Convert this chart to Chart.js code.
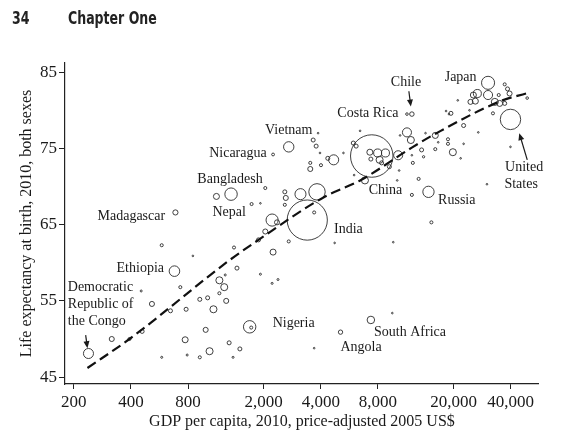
<!DOCTYPE html>
<html>
<head>
<meta charset="utf-8">
<script src="https://cdn.jsdelivr.net/npm/chart.js@4.4.0/dist/chart.umd.min.js"></script>
<style>
  body { margin: 0; background: #fff; }
  #wrap { position: relative; width: 561px; height: 437px; }
  .hdr { position: absolute; top: 8px; font-family: "DejaVu Sans Condensed", "Liberation Sans Narrow", sans-serif;
         font-weight: bold; font-size: 17px; color: #222; transform: scaleX(0.82); transform-origin: left top; }
</style>
</head>
<body>
<div id="wrap">
  <canvas id="chart" width="561" height="437"></canvas>
  <div class="hdr" style="left:12px">34</div>
  <div class="hdr" style="left:68px">Chapter One</div>
</div>
<script>
// countries: GDP per capita (2005 US$), life expectancy, population (millions)
const gdp = [239, 317, 393, 458, 516, 453, 728, 678, 646, 781, 772, 581, 791, 922, 1038, 990, 922, 1014, 1088, 1169,
  1240, 1169, 1270, 1447, 1255, 1316, 1499, 1380, 1688, 1720, 1923, 2216, 2380, 7340, 5080, 9520, 3690, 3394, 3690, 3820,
  3126, 2585, 2616, 2585, 2216, 2352, 2711, 4730, 9630, 12070, 14760, 15290, 30000, 2242, 686, 1128, 1347, 1728, 1923, 2040,
  2040, 1878, 1396, 581, 848, 2711, 2242, 3870, 3646, 3780, 3960, 3520, 3520, 4008, 4675, 4354, 5264, 11370, 12070, 18920,
  11370, 11920, 6440, 5930, 6140, 7420, 7250, 7970, 8760, 7340, 8160, 8360, 10220, 10460, 14240, 16030, 16610, 16030, 13580, 12070,
  12210, 13910, 9186, 10340, 6830, 5990, 13100, 10100, 19840, 18700, 18700, 22600, 21800, 18270, 19380, 22600, 24270, 27000,
  21060, 30400, 26700, 25440, 30400, 24560, 26060, 33000, 35000, 37200, 38500, 39460, 34600, 32260, 37200, 48860, 39900, 39900];
const lifeExp = [48.1, 50.0, 50.0, 51.0, 54.6, 56.3, 56.8, 58.9, 53.7, 53.9, 49.9, 47.6, 47.9, 47.6, 48.4, 51.2, 55.2, 55.4, 53.9, 57.7,
  56.8, 56.0, 55.0, 59.3, 58.4, 49.5, 48.7, 47.6, 51.6, 51.5, 58.5, 57.3, 57.8, 52.5, 50.9, 53.4, 48.8, 65.6, 66.6, 69.3,
  69.0, 69.3, 68.5, 67.6, 65.6, 65.3, 62.8, 62.6, 62.7, 68.9, 69.3, 65.3, 70.3, 61.4, 66.6, 68.7, 69.0, 67.7, 67.8, 69.8,
  64.1, 63.0, 62.0, 62.3, 60.9, 75.2, 74.2, 77.0, 76.1, 75.3, 74.4, 73.1, 72.3, 72.8, 73.5, 73.7, 74.4, 79.5, 79.5, 79.5,
  77.1, 76.1, 77.3, 75.7, 75.3, 74.0, 74.5, 74.4, 74.4, 73.6, 73.5, 73.1, 74.1, 76.7, 77.0, 76.7, 75.8, 74.9, 74.8, 74.1,
  73.1, 73.9, 72.6, 72.1, 70.8, 71.5, 71.0, 70.8, 74.5, 76.2, 75.6, 75.6, 73.7, 79.9, 79.6, 78.0, 80.0, 77.1,
  81.3, 83.6, 82.2, 82.0, 82.0, 81.1, 81.2, 81.1, 80.9, 83.4, 82.8, 82.2, 82.0, 79.6, 80.9, 81.6, 78.8, 75.2];
const population = [75, 19, 7, 12, 19, 3, 7, 83, 12, 12, 27, 3, 3, 7, 37, 19, 12, 12, 37, 37,
  37, 7, 19, 12, 3, 12, 12, 3, 115, 7, 3, 3, 3, 42, 14, 2, 2, 1200, 7, 200,
  91, 12, 19, 7, 110, 19, 7, 2, 2, 7, 95, 7, 2, 27, 20, 27, 115, 7, 2, 7,
  19, 12, 7, 7, 2, 80, 6, 2, 12, 12, 2, 7, 19, 7, 75, 12, 2, 5, 15, 2,
  61, 37, 2, 12, 12, 1340, 27, 48, 48, 12, 37, 12, 61, 2, 2, 27, 2, 7, 12, 2,
  7, 4, 12, 2, 37, 2, 7, 2, 37, 7, 7, 2, 2, 2, 12, 12, 2, 2,
  2, 127, 48, 27, 61, 19, 27, 37, 27, 7, 12, 19, 7, 7, 12, 5, 310, 2];

// fitted curve
const fitGdp = [236, 393, 1316, 1878, 4150, 6450, 12060, 16000, 36200, 48200];
const fitLife = [46.2, 50.0, 60.3, 63.0, 68.6, 70.8, 75.1, 76.9, 81.3, 82.2];

const xTicks = [200, 400, 800, 2000, 4000, 8000, 20000, 40000];
const yTicks = [45, 55, 65, 75, 85];

// country labels (anchored in data units)
const labelText = ['Chile', 'Japan', 'Costa Rica', 'Vietnam', 'Nicaragua', 'Bangladesh', 'Nepal', 'Madagascar', 'Ethiopia',
  'Nigeria', 'South Africa', 'Angola', 'India', 'China', 'Russia', 'United', 'States'];
const labelGdp = [11240, 21800, 7080, 2710, 1464, 1330, 1316, 402, 448, 2230, 11800, 6520, 5590, 8760, 20800, 47100, 45400];
const labelLife = [83.7, 84.3, 79.6, 77.4, 74.4, 71.0, 66.6, 66.1, 59.3, 52.1, 50.9, 48.9, 64.4, 69.5, 68.2, 72.5, 70.3];
const congoLines = ['Democratic', 'Republic of', 'the Congo'];
const congoGdp = 186;
const congoLife = [56.8, 54.6, 52.3];

// arrows: tail -> tip
const arrowFromGdp = [11640, 48900, 231];
const arrowFromLife = [82.5, 73.5, 50.5];
const arrowToGdp = [11920, 44400, 236];
const arrowToLife = [80.5, 77.0, 48.8];

const serif = '"Liberation Serif", "DejaVu Serif", serif';

const annotations = {
    id: 'annotations',
    afterDatasetsDraw(chart) {
        const { ctx, scales: { x, y } } = chart;
        ctx.save();
        ctx.fillStyle = '#1a1a1a';
        ctx.font = '14px ' + serif;
        ctx.textBaseline = 'middle';
        labelText.forEach((t, i) => {
            ctx.textAlign = t === 'Nigeria' ? 'left' : 'center';
            ctx.fillText(t, x.getPixelForValue(labelGdp[i]), y.getPixelForValue(labelLife[i]));
        });
        ctx.textAlign = 'left';
        congoLines.forEach((t, i) => {
            ctx.fillText(t, x.getPixelForValue(congoGdp), y.getPixelForValue(congoLife[i]));
        });

        ctx.strokeStyle = '#1a1a1a';
        ctx.lineWidth = 1.2;
        arrowFromGdp.forEach((g, i) => {
            const x0 = x.getPixelForValue(g), y0 = y.getPixelForValue(arrowFromLife[i]);
            const x1 = x.getPixelForValue(arrowToGdp[i]), y1 = y.getPixelForValue(arrowToLife[i]);
            const a = Math.atan2(y1 - y0, x1 - x0);
            ctx.beginPath();
            ctx.moveTo(x0, y0);
            ctx.lineTo(x1 - 4 * Math.cos(a), y1 - 4 * Math.sin(a));
            ctx.stroke();
            ctx.beginPath();
            ctx.moveTo(x1, y1);
            ctx.lineTo(x1 - 7 * Math.cos(a) + 3 * Math.sin(a), y1 - 7 * Math.sin(a) - 3 * Math.cos(a));
            ctx.lineTo(x1 - 7 * Math.cos(a) - 3 * Math.sin(a), y1 - 7 * Math.sin(a) + 3 * Math.cos(a));
            ctx.closePath();
            ctx.fill();
        });
        ctx.restore();
    }
};

const ctx = document.getElementById('chart').getContext('2d');
new Chart(ctx, {
    type: 'bubble',
    data: {
        datasets: [{
            type: 'line',
            data: fitGdp.map((g, i) => ({ x: g, y: fitLife[i] })),
            borderColor: '#111',
            borderWidth: 2.2,
            borderDash: [10, 5],
            pointRadius: 0,
            fill: false,
            tension: 0.4,
            cubicInterpolationMode: 'monotone'
        }, {
            data: gdp.map((g, i) => ({ x: g, y: lifeExp[i], r: 0.58 * Math.sqrt(population[i]) })),
            backgroundColor: 'rgba(0,0,0,0)',
            borderColor: '#2a2a2a',
            borderWidth: 0.9
        }]
    },
    options: {
        responsive: false,
        animation: false,
        events: [],
        layout: { padding: { top: 63, right: 11, left: 0, bottom: 0 } },
        plugins: { legend: { display: false }, tooltip: { enabled: false } },
        scales: {
            x: {
                type: 'logarithmic',
                min: 179.8,
                max: 56300,
                afterBuildTicks: (s) => { s.ticks = xTicks.map(v => ({ value: v })); },
                afterFit: (s) => { s.height = 53; },
                grid: { display: true, drawOnChartArea: false, drawTicks: true, tickLength: 5, color: '#222' },
                border: { display: true, color: '#222', width: 1.2 },
                ticks: {
                    color: '#1a1a1a', padding: 3, maxRotation: 0, autoSkip: false,
                    font: { family: serif, size: 17 },
                    callback: (v) => Number(v).toLocaleString('en-US')
                },
                title: {
                    display: true, text: 'GDP per capita, 2010, price-adjusted 2005 US$',
                    color: '#1a1a1a', font: { family: serif, size: 16 }, padding: { bottom: 6 }
                }
            },
            y: {
                min: 44.1,
                max: 86.2,
                afterBuildTicks: (s) => { s.ticks = yTicks.map(v => ({ value: v })); },
                afterFit: (s) => { s.width = 65; },
                grid: { display: true, drawOnChartArea: false, drawTicks: true, tickLength: 6, color: '#222' },
                border: { display: true, color: '#222', width: 1.2 },
                ticks: { color: '#1a1a1a', padding: 2, font: { family: serif, size: 17 } },
                title: {
                    display: true, text: 'Life expectancy at birth, 2010, both sexes',
                    color: '#1a1a1a', font: { family: serif, size: 16 }, padding: { top: 17 }
                }
            }
        }
    },
    plugins: [annotations]
});
</script>
</body>
</html>
